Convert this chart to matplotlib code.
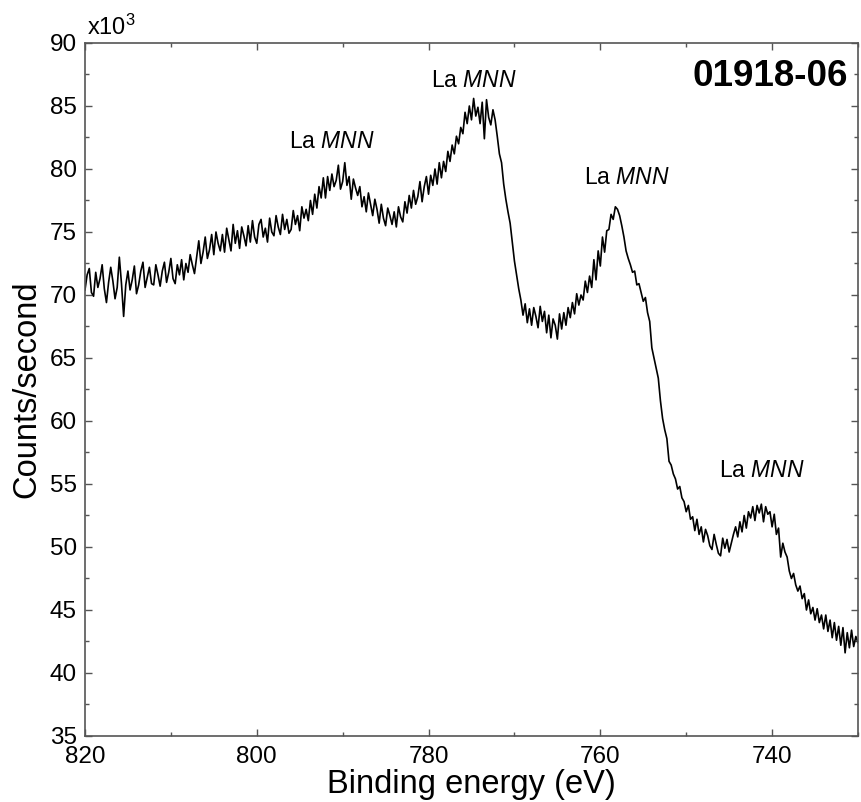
import numpy as np
import matplotlib.pyplot as plt
from matplotlib.ticker import MultipleLocator

plt.rcParams['font.family'] = ['Liberation Sans', 'DejaVu Sans']
plt.rcParams['mathtext.fontset'] = 'custom'
plt.rcParams['mathtext.rm'] = 'Liberation Sans'
plt.rcParams['mathtext.it'] = 'Liberation Sans:italic'

# counts/second (x10^3), read every 0.25 eV from 820 eV down to 730 eV
counts = [
    70.4, 71.6, 72.1, 70.2, 69.9, 71.8, 70.6, 71.3, 72.4, 70.5, 69.4, 71.0, 72.2, 71.1, 69.7, 70.6,
    73.0, 70.9, 68.3, 70.8, 71.9, 70.4, 71.2, 72.3, 70.1, 70.8, 71.9, 72.6, 70.6, 71.4, 72.2, 70.9,
    70.8, 72.4, 71.6, 70.7, 71.9, 72.6, 71.0, 71.8, 72.9, 71.3, 70.9, 72.4, 71.6, 72.8, 71.2, 72.5,
    71.8, 73.2, 72.4, 71.7, 73.0, 74.3, 72.5, 73.4, 74.6, 72.9, 73.6, 74.8, 73.2, 75.0, 74.1, 73.5,
    74.8, 73.4, 75.3, 74.4, 73.5, 75.6, 74.1, 75.1, 73.7, 75.4, 74.7, 73.9, 75.5, 74.2, 75.9, 74.6,
    74.1, 75.6, 76.0, 74.6, 75.3, 74.2, 76.1, 75.0, 74.7, 76.3, 75.4, 74.8, 76.4, 75.2, 76.0, 74.9,
    75.2, 76.7, 75.6, 76.3, 75.1, 77.0, 76.1, 76.8, 75.9, 77.5, 76.4, 78.0, 76.9, 78.6, 77.7, 79.3,
    77.7, 79.4, 78.3, 79.6, 78.6, 79.1, 80.3, 78.4, 79.0, 80.5, 78.7, 79.4, 77.6, 79.2, 78.5, 77.9,
    78.6, 77.0, 77.8, 76.6, 78.1, 77.2, 76.3, 77.6, 76.8, 75.7, 77.2, 76.1, 75.5, 76.9, 76.3, 75.6,
    76.6, 75.4, 77.0, 76.2, 75.8, 77.4, 76.5, 77.9, 76.9, 78.3, 77.2, 77.8, 79.0, 77.4, 78.6, 79.4,
    78.0, 79.5, 78.7, 80.0, 78.8, 80.5, 79.3, 80.6, 79.8, 81.4, 80.6, 81.9, 81.2, 82.6, 82.0, 83.3,
    82.8, 84.5, 83.6, 85.0, 83.9, 85.6, 84.2, 84.9, 83.6, 85.3, 82.4, 85.5, 84.1, 83.5, 84.7, 83.9,
    82.6, 81.2, 80.5, 78.8, 77.6, 76.6, 75.7, 74.2, 72.7, 71.6, 70.5, 69.6, 68.4, 69.3, 67.8, 68.9,
    67.6, 69.0, 68.3, 67.4, 69.1, 67.9, 68.7, 67.0, 68.4, 66.6, 68.1, 67.6, 66.5, 68.5, 67.3, 68.6,
    67.6, 69.0, 68.2, 69.4, 68.5, 70.1, 69.2, 70.0, 69.6, 71.1, 70.2, 71.5, 70.6, 72.8, 71.2, 73.5,
    72.3, 74.6, 73.4, 75.1, 75.2, 76.4, 76.0, 77.0, 76.8, 76.3, 75.5, 74.6, 73.5, 72.9, 72.4, 71.8,
    71.9, 70.8, 70.9, 70.2, 69.5, 69.8, 68.6, 67.9, 65.8, 65.0, 64.2, 63.4, 61.6, 60.2, 59.3, 58.6,
    56.8, 56.5, 55.8, 55.4, 54.6, 54.8, 53.9, 53.6, 52.8, 53.3, 52.2, 52.4, 51.3, 52.2, 51.0, 51.6,
    50.4, 51.4, 50.9, 50.1, 49.8, 51.0, 50.2, 49.5, 49.3, 50.7, 49.9, 50.6, 49.6, 50.3, 51.0, 51.6,
    50.8, 52.0, 51.2, 52.5, 51.5, 52.8, 52.3, 53.2, 52.1, 53.3, 52.7, 53.4, 52.0, 53.2, 52.6, 52.8,
    51.6, 52.6, 51.0, 51.5, 49.2, 50.3, 49.6, 49.2, 48.1, 47.5, 47.9, 47.0, 46.5, 46.9, 45.9, 46.3,
    45.0, 45.8, 44.7, 45.2, 44.2, 45.1, 44.0, 44.6, 43.5, 44.6, 43.3, 44.2, 42.8, 44.0, 42.6, 43.7,
    42.2, 43.6, 41.6, 43.2, 42.0, 43.4, 42.1, 42.9, 42.4,
]
energy = np.linspace(820, 730, len(counts))

# peak labels
label_text = 'La $\\mathit{MNN}$'
label_x = [791.3, 774.7, 756.9, 741.2]
label_y = [82.2, 87.0, 79.3, 56.1]

fig = plt.figure(figsize=(8.61, 8.02), dpi=100)
ax = fig.add_axes([0.0987, 0.0823, 0.8978, 0.8641])

ax.plot(energy, counts, color='black', lw=1.2)

for x, y in zip(label_x, label_y):
    ax.text(x, y, label_text, fontsize=16.5, ha='center', va='center')

ax.text(0.987, 0.952, '01918-06', transform=ax.transAxes, fontsize=26.5,
        fontweight='bold', ha='right', va='center')
ax.text(0.003, 1.004, 'x10$^3$', transform=ax.transAxes, fontsize=17,
        ha='left', va='bottom')

ax.set_xlim(820, 730)
ax.set_ylim(35, 90)
ax.xaxis.set_major_locator(MultipleLocator(20))
ax.xaxis.set_minor_locator(MultipleLocator(10))
ax.yaxis.set_major_locator(MultipleLocator(5))
ax.yaxis.set_minor_locator(MultipleLocator(2.5))

ax.tick_params(which='both', direction='in', top=True, right=True,
               color='#555555', labelsize=17.5)
ax.tick_params(which='major', length=5, width=1)
ax.tick_params(which='minor', length=3, width=1)
ax.tick_params(axis='x', pad=7)
ax.tick_params(axis='y', pad=6)
for s in ax.spines.values():
    s.set_color('#555555')
    s.set_linewidth(1.2)

ax.set_xlabel('Binding energy (eV)', fontsize=23.5, labelpad=1)
ax.set_ylabel('Counts/second', fontsize=23.5, labelpad=5)

fig.savefig('out.png')
